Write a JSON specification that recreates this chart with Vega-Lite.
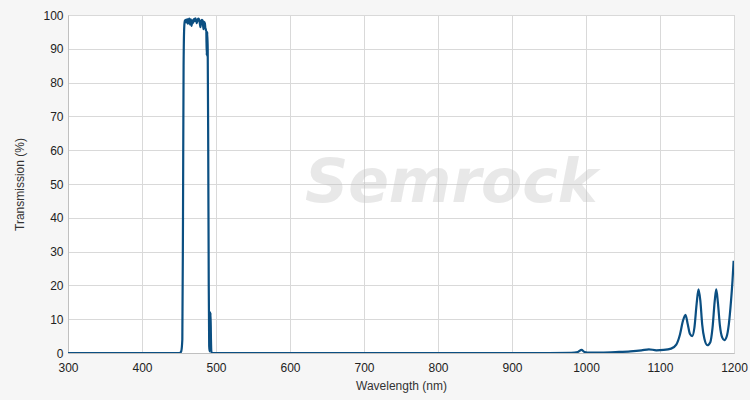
{
  "$schema": "https://vega.github.io/schema/vega-lite/v6.json",
  "width": 666,
  "height": 338,
  "autosize": {"type": "none"},
  "padding": {"left": 68, "top": 15, "right": 16, "bottom": 47},
  "background": "#f6f6f6",
  "config": {
    "view": {"fill": "#ffffff", "stroke": "#cccccc", "strokeWidth": 1},
    "font": "Liberation Sans",
    "axis": {
      "labelFont": "Liberation Sans",
      "titleFont": "Liberation Sans",
      "labelFontSize": 12,
      "titleFontSize": 12,
      "titleFontWeight": "normal",
      "labelColor": "#222222",
      "titleColor": "#333333",
      "grid": true,
      "gridColor": "#d9d9d9",
      "gridWidth": 1,
      "domainColor": "#c0c0c0",
      "ticks": false,
      "labelOverlap": false,
      "labelFlush": false
    }
  },
  "layer": [
    {
      "data": {"values": [{"label": "Semrock"}]},
      "mark": {"type": "text", "fontSize": 60, "fontWeight": "bold", "fontStyle": "italic", "color": "#c4c4c4", "opacity": 0.38, "font": "DejaVu Sans", "baseline": "middle"},
      "encoding": {
        "x": {"datum": 818, "type": "quantitative",
          "scale": {"domain": [300, 1200], "nice": false, "zero": false},
          "axis": {"title": "Wavelength (nm)", "grid": true, "values": [300, 400, 500, 600, 700, 800, 900, 1000, 1100, 1200], "labelPadding": 9, "titlePadding": 7, "format": "d"}},
        "y": {"datum": 50, "type": "quantitative",
          "scale": {"domain": [0, 100], "nice": false},
          "axis": {"title": "Transmission (%)", "grid": true, "values": [0, 10, 20, 30, 40, 50, 60, 70, 80, 90, 100], "labelPadding": 5, "titlePadding": 16}},
        "text": {"field": "label"}
      }
    },
    {
      "data": {
        "values": [
          {"wl": 300, "t": 0}, {"wl": 400, "t": 0}, {"wl": 451, "t": 0}, {"wl": 453, "t": 0.5},
          {"wl": 454.5, "t": 4}, {"wl": 455.4, "t": 40}, {"wl": 456.2, "t": 85}, {"wl": 457.1, "t": 96.5},
          {"wl": 458, "t": 98.3}, {"wl": 459, "t": 98.6}, {"wl": 460, "t": 97.8}, {"wl": 461, "t": 98.8},
          {"wl": 462, "t": 97.4}, {"wl": 463, "t": 98.5}, {"wl": 464, "t": 98.9}, {"wl": 465, "t": 97.2},
          {"wl": 466, "t": 98.7}, {"wl": 467, "t": 96.8}, {"wl": 468, "t": 98.4}, {"wl": 469, "t": 97.6},
          {"wl": 470, "t": 98.8}, {"wl": 471, "t": 98.2}, {"wl": 472, "t": 99}, {"wl": 473, "t": 98.6},
          {"wl": 474, "t": 97.6}, {"wl": 475, "t": 98.4}, {"wl": 476, "t": 98.9}, {"wl": 477, "t": 98.7},
          {"wl": 478, "t": 97.8}, {"wl": 479, "t": 96.4}, {"wl": 480, "t": 98.2}, {"wl": 481, "t": 98.6},
          {"wl": 482, "t": 98.3}, {"wl": 483, "t": 95.8}, {"wl": 484, "t": 98}, {"wl": 485, "t": 97.5},
          {"wl": 486, "t": 95.5}, {"wl": 486.8, "t": 96}, {"wl": 487.5, "t": 88}, {"wl": 488.2, "t": 95},
          {"wl": 488.8, "t": 90}, {"wl": 489.5, "t": 60}, {"wl": 490.2, "t": 20}, {"wl": 490.8, "t": 2},
          {"wl": 491.4, "t": 0.5}, {"wl": 492, "t": 6}, {"wl": 492.6, "t": 12}, {"wl": 493.2, "t": 4},
          {"wl": 493.8, "t": 0.3}, {"wl": 495, "t": 0}, {"wl": 600, "t": 0}, {"wl": 800, "t": 0}, {"wl": 950, "t": 0},
          {"wl": 980, "t": 0.05}, {"wl": 989, "t": 0.3}, {"wl": 994, "t": 0.9}, {"wl": 998, "t": 0.3},
          {"wl": 1005, "t": 0.1}, {"wl": 1020, "t": 0.15}, {"wl": 1040, "t": 0.3}, {"wl": 1060, "t": 0.5},
          {"wl": 1075, "t": 0.8}, {"wl": 1085, "t": 1.1}, {"wl": 1095, "t": 0.8}, {"wl": 1105, "t": 0.9},
          {"wl": 1115, "t": 1.3}, {"wl": 1122, "t": 2.5}, {"wl": 1127, "t": 5.5}, {"wl": 1131, "t": 9.5},
          {"wl": 1134.5, "t": 11.3}, {"wl": 1137.5, "t": 8.5}, {"wl": 1140.5, "t": 5.6}, {"wl": 1143.5, "t": 5},
          {"wl": 1146.5, "t": 7.5}, {"wl": 1149.5, "t": 14.5}, {"wl": 1152, "t": 18.8}, {"wl": 1154.5, "t": 15.5},
          {"wl": 1157, "t": 8.5}, {"wl": 1160, "t": 4.2}, {"wl": 1164, "t": 2.3}, {"wl": 1168, "t": 3.2},
          {"wl": 1171, "t": 7.5}, {"wl": 1174, "t": 15.5}, {"wl": 1176, "t": 18.8}, {"wl": 1178.2, "t": 15},
          {"wl": 1181, "t": 8}, {"wl": 1184, "t": 4.6}, {"wl": 1187, "t": 3.8}, {"wl": 1190, "t": 4.8},
          {"wl": 1193, "t": 8.5}, {"wl": 1196, "t": 15.5}, {"wl": 1198, "t": 21.5}, {"wl": 1199.5, "t": 27.3}
        ]
      },
      "mark": {"type": "line", "color": "#0b4f82", "strokeWidth": 2.2, "interpolate": "monotone", "clip": true},
      "encoding": {
        "x": {
          "field": "wl", "type": "quantitative",
          "scale": {"domain": [300, 1200], "nice": false, "zero": false},
          "axis": {"title": "Wavelength (nm)", "grid": true, "values": [300, 400, 500, 600, 700, 800, 900, 1000, 1100, 1200], "labelPadding": 9, "titlePadding": 7, "format": "d"}
        },
        "y": {
          "field": "t", "type": "quantitative",
          "scale": {"domain": [0, 100], "nice": false},
          "axis": {"title": "Transmission (%)", "grid": true, "values": [0, 10, 20, 30, 40, 50, 60, 70, 80, 90, 100], "labelPadding": 5, "titlePadding": 16}
        }
      }
    }
  ]
}
